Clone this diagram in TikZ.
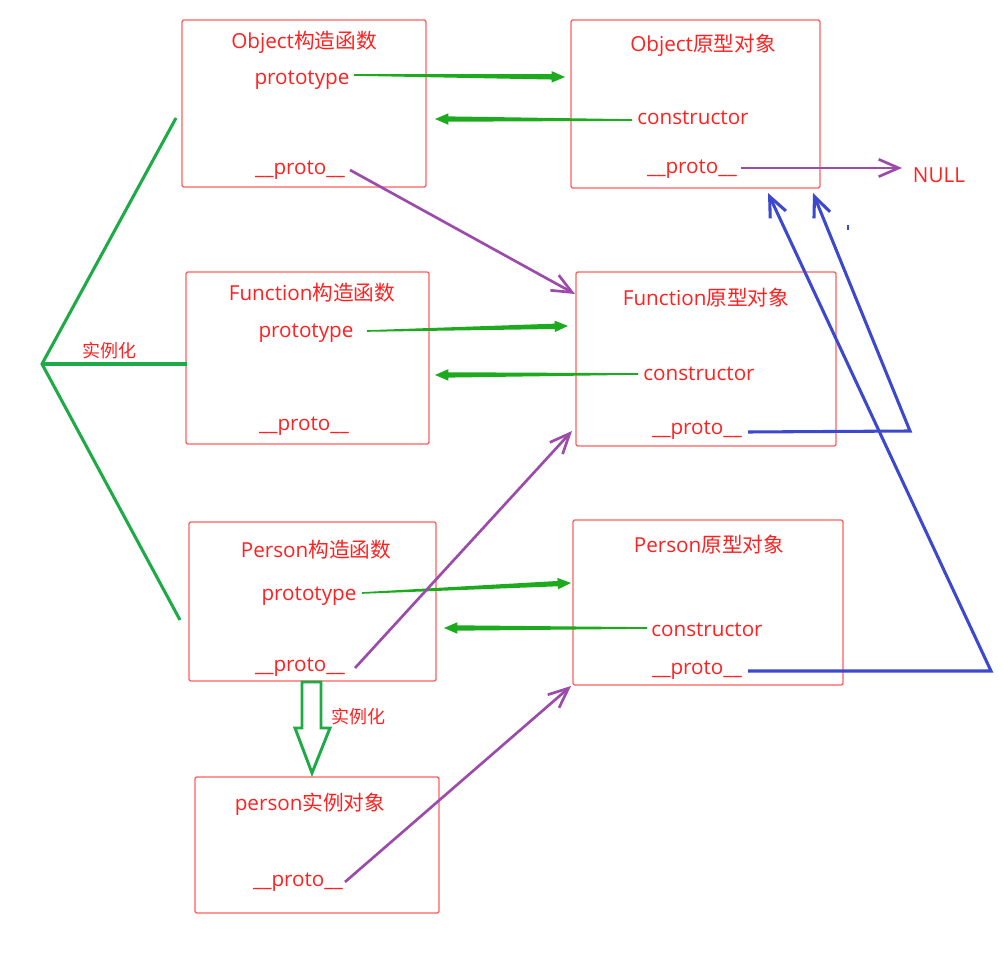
\documentclass[tikz,border=0pt]{standalone}
\usepackage{fontspec}
\setmainfont{Open Sans}
\newfontfamily\cjk{Noto Sans CJK SC}
\usetikzlibrary{arrows.meta,calc}
\definecolor{txtred}{RGB}{255,32,32}
\definecolor{boxred}{RGB}{255,95,95}
\definecolor{arrowgreen}{RGB}{30,170,30}
\definecolor{instgreen}{RGB}{30,170,70}
\definecolor{protopurple}{RGB}{155,75,170}
\definecolor{chainblue}{RGB}{60,72,205}

% tapered green arrow from #1 to #2
\newcommand{\greenarrow}[2]{%
  \coordinate (gh) at ($(#2)!10pt!(#1)$);
  \fill[arrowgreen] ($(#1)!0.6pt!90:(#2)$) -- ($(gh)!2pt!90:(#2)$)
    -- ($(gh)!4.3pt!90:(#2)$) -- (#2) -- ($(gh)!4.3pt!-90:(#2)$)
    -- ($(gh)!2pt!-90:(#2)$) -- ($(#1)!0.6pt!-90:(#2)$) -- cycle;}

\begin{document}
\begin{tikzpicture}[x=0.75pt,y=-0.75pt,
  box/.style={draw=boxred,line width=1pt,rounded corners=1.5pt,inner sep=0pt},
  lbl/.style={text=txtred,inner sep=0pt,font=\fontsize{15.5pt}{18pt}\selectfont},
  small/.style={text=txtred,inner sep=0pt,font=\cjk\fontsize{13.5pt}{16pt}\selectfont},
  purplearrow/.style={protopurple,line width=2pt,-{Straight Barb[length=15pt,width=13pt]}},
  bluearrow/.style={chainblue,line width=2.3pt,line join=miter,-{Straight Barb[length=15pt,width=13pt]}},
  instline/.style={instgreen,line width=2.3pt}]
\useasboundingbox (0,0) rectangle (1004,969);

% boxes
\node[box,minimum width=183pt,minimum height=125.25pt] (objc) at (304,103.5) {};
\node[box,minimum width=186.75pt,minimum height=126pt] (objp) at (695.5,104) {};
\node[box,minimum width=182.25pt,minimum height=129pt] (func) at (307.5,358) {};
\node[box,minimum width=195pt,minimum height=130.5pt] (funp) at (706,359) {};
\node[box,minimum width=185.25pt,minimum height=119.25pt] (perc) at (312.5,601.5) {};
\node[box,minimum width=202.5pt,minimum height=123.75pt] (perp) at (708,602.5) {};
\node[box,minimum width=183pt,minimum height=102pt] (inst) at (317,845) {};

% texts
\node[lbl] (objc-t) at (304,42) {Object{\cjk 构造函数}};
\node[lbl] (objc-pt) at (302,80) {prototype};
\node[lbl] (objc-pr) at (300,170) {\_\_proto\_\_};
\node[lbl] (objp-t) at (703,45) {Object{\cjk 原型对象}};
\node[lbl] (objp-c) at (693,118) {constructor};
\node[lbl] (objp-pr) at (692,169.5) {\_\_proto\_\_};
\node[lbl] (null) at (939,175) {NULL};

\node[lbl] (func-t) at (312,293) {Function{\cjk 构造函数}};
\node[lbl] (func-pt) at (306,333) {prototype};
\node[lbl] (func-pr) at (304,426.5) {\_\_proto\_\_};
\node[lbl] (funp-t) at (706,298) {Function{\cjk 原型对象}};
\node[lbl] (funp-c) at (699,374) {constructor};
\node[lbl] (funp-pr) at (697,430.5) {\_\_proto\_\_};

\node[lbl] (perc-t) at (316,550) {Person{\cjk 构造函数}};
\node[lbl] (perc-pt) at (309,596) {prototype};
\node[lbl] (perc-pr) at (300,667.5) {\_\_proto\_\_};
\node[lbl] (perp-t) at (709,545) {Person{\cjk 原型对象}};
\node[lbl] (perp-c) at (707,630) {constructor};
\node[lbl] (perp-pr) at (697,670.5) {\_\_proto\_\_};

\node[lbl] (inst-t) at (310,804) {person{\cjk 实例对象}};
\node[lbl] (inst-pr) at (298,882.5) {\_\_proto\_\_};

% prototype / constructor links
\coordinate (a1) at (354,75);  \coordinate (b1) at (565,77);
\coordinate (a2) at (632,120); \coordinate (b2) at (435,119);
\coordinate (a3) at (367,331); \coordinate (b3) at (568,326);
\coordinate (a4) at (638,374); \coordinate (b4) at (435,375);
\coordinate (a5) at (362,593); \coordinate (b5) at (571,583);
\coordinate (a6) at (647,628); \coordinate (b6) at (444,628);
\greenarrow{a1}{b1}
\greenarrow{a2}{b2}
\greenarrow{a3}{b3}
\greenarrow{a4}{b4}
\greenarrow{a5}{b5}
\greenarrow{a6}{b6}

% __proto__ links
\coordinate (p1s) at (350,170); \coordinate (p1e) at (575,294);
\coordinate (p2s) at (355,668); \coordinate (p2e) at (572,431);
\coordinate (p3s) at (345,882); \coordinate (p3e) at (571,686);
\coordinate (p4s) at (741,168); \coordinate (p4e) at (902,168);
\draw[purplearrow] (p1s) -- (p1e);
\draw[purplearrow] (p2s) -- (p2e);
\draw[purplearrow] (p3s) -- (p3e);
\draw[purplearrow] (p4s) -- (p4e);

\coordinate (q1s) at (748,432); \coordinate (q1m) at (910,431); \coordinate (q1e) at (813,193);
\coordinate (q2s) at (748,671); \coordinate (q2m) at (991,671); \coordinate (q2e) at (768,193);
\draw[bluearrow] (q1s) -- (q1m) -- (q1e);
\draw[bluearrow] (q2s) -- (q2m) -- (q2e);
\fill[chainblue] (847,225) rectangle (849,230);

% instantiation of the constructors
\coordinate (v) at (42,364);
\coordinate (i1) at (176,118);
\coordinate (i2) at (187,364);
\coordinate (i3) at (180,620);
\draw[instline,line join=miter] (i1) -- (v) -- (i3);
\draw[instline] (v) -- (i2);
\node[small] (inst-l1) at (109,351) {实例化};

% instantiation of person
\draw[instgreen,line width=2.2pt,line join=miter] (302,682) -- (302,728) -- (295,728)
  -- (312,773) -- (330,728) -- (321,728) -- (321,682) -- cycle;
\node[small] (inst-l2) at (358,717) {实例化};
\end{tikzpicture}
\end{document}
